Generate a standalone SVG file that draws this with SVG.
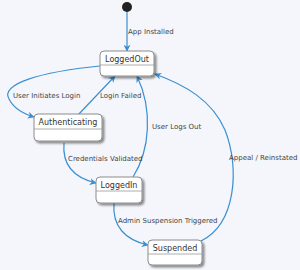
<svg xmlns="http://www.w3.org/2000/svg" width="300" height="270" viewBox="0 0 300 270">
<defs>
<marker id="arr" viewBox="0 0 10 10" refX="9" refY="5" markerWidth="7" markerHeight="7" markerUnits="userSpaceOnUse" orient="auto">
<path d="M0,0 L10,5 L0,10 L3,5 Z" fill="#3a8fd1"/>
</marker>
<filter id="sh" x="-20%" y="-20%" width="150%" height="160%">
<feGaussianBlur in="SourceAlpha" stdDeviation="1.2"/>
<feOffset dx="2" dy="2" result="b"/>
<feComponentTransfer><feFuncA type="linear" slope="0.45"/></feComponentTransfer>
<feMerge><feMergeNode/><feMergeNode in="SourceGraphic"/></feMerge>
</filter>
</defs>
<style>
.bg{fill:#f4f6fb}
.box{fill:#ffffff;stroke:#8c8c8c;stroke-width:1}
.div{stroke:#9a9a9a;stroke-width:0.8}
.name{font-family:"DejaVu Sans",sans-serif;font-size:8px;fill:#333333;text-anchor:middle}
.lbl{font-family:"DejaVu Sans",sans-serif;font-size:7px;fill:#444444}
.edge{fill:none;stroke:#3a8fd1;stroke-width:1.2;marker-end:url(#arr)}
</style>
<rect class="bg" x="0" y="0" width="300" height="270"/>
<g id="connectors">
<path class="edge" d="M127,12 L127,51"/>
<path class="edge" d="M100,66 C40,72 0,84 9,99 C14,109 24,114 34,117"/>
<path class="edge" d="M78,115 L115,76"/>
<path class="edge" d="M64,143 C62,166 75,178 96,183"/>
<path class="edge" d="M133,177 C150,150 153,110 137,76"/>
<path class="edge" d="M114,203 C112,226 125,240 148,245"/>
<path class="edge" d="M201,241 C236,224 240,168 225,130 C212,100 185,85 155,74"/>
<text class="lbl" x="128" y="34">App Installed</text>
<text class="lbl" x="13" y="98">User Initiates Login</text>
<text class="lbl" x="100" y="98">Login Failed</text>
<text class="lbl" x="152" y="129">User Logs Out</text>
<text class="lbl" x="68" y="161">Credentials Validated</text>
<text class="lbl" x="118" y="223">Admin Suspension Triggered</text>
<text class="lbl" x="229" y="160">Appeal / Reinstated</text>
</g>
<g id="start">
<circle cx="127" cy="7" r="5" fill="#222222"/>
</g>
<g id="LoggedOut">
<rect class="box" x="100" y="51" width="54" height="25" rx="4" filter="url(#sh)"/>
<line class="div" x1="100" y1="65" x2="154" y2="65"/>
<text class="name" x="127" y="62">LoggedOut</text>
</g>
<g id="Authenticating">
<rect class="box" x="34" y="114" width="68" height="27" rx="4" filter="url(#sh)"/>
<line class="div" x1="34" y1="129" x2="102" y2="129"/>
<text class="name" x="68" y="125">Authenticating</text>
</g>
<g id="LoggedIn">
<rect class="box" x="96" y="177" width="46" height="26" rx="4" filter="url(#sh)"/>
<line class="div" x1="96" y1="191" x2="142" y2="191"/>
<text class="name" x="119" y="188">LoggedIn</text>
</g>
<g id="Suspended">
<rect class="box" x="148" y="240" width="54" height="25" rx="4" filter="url(#sh)"/>
<line class="div" x1="148" y1="254" x2="202" y2="254"/>
<text class="name" x="175" y="251">Suspended</text>
</g>
</svg>
